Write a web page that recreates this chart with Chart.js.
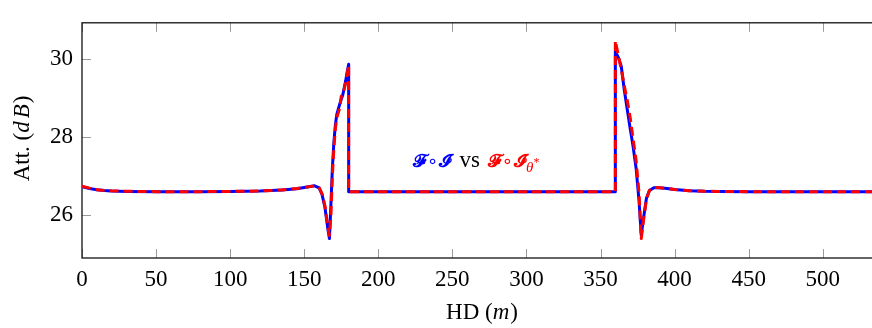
<!DOCTYPE html>
<html>
<head>
<meta charset="utf-8">
<script src="https://cdn.jsdelivr.net/npm/chart.js@4.4.1/dist/chart.umd.min.js"></script>
<style>
  html, body { margin: 0; padding: 0; background: #fff; overflow: hidden; }
  #wrap { width: 872px; height: 328px; overflow: hidden; }
  canvas { display: block; }
</style>
</head>
<body>
<div id="wrap"><canvas id="att" width="882" height="328"></canvas></div>
<script>
// Horizontal distance (m)
const hd = [
  0, 5, 10, 15, 20, 30, 50, 80, 100, 120, 135, 145, 152, 157, 160, 162, 164, 166, 167,
  168, 169, 170, 171, 172, 174, 175, 176, 178, 179, 180, 180, 200, 300, 360, 360,
  362, 364, 366, 368, 370, 372, 374, 376, 377.5, 379, 381, 383, 386, 390, 395, 400,
  410, 420, 430, 450, 500, 540
];
// Attenuation (dB), reference F∘I
const attRef = [
  26.72, 26.67, 26.64, 26.62, 26.605, 26.595, 26.59, 26.59, 26.595, 26.605, 26.63, 26.665, 26.71, 26.74, 26.69, 26.52, 26.18, 25.62, 25.38,
  26.25, 27.20, 27.85, 28.30, 28.58, 28.85, 28.97, 29.08, 29.45, 29.68, 29.87, 26.59, 26.59, 26.59, 26.59, 30.20,
  30.05, 29.82, 29.22, 28.72, 28.22, 27.75, 27.20, 26.35, 25.46, 25.90, 26.42, 26.62, 26.69, 26.69, 26.67, 26.645,
  26.615, 26.60, 26.595, 26.59, 26.59, 26.59
];
// Attenuation (dB), surrogate F∘I_θ*
const attSur = [
  26.73, 26.68, 26.64, 26.62, 26.61, 26.60, 26.59, 26.59, 26.595, 26.605, 26.635, 26.67, 26.71, 26.74, 26.70, 26.54, 26.22, 25.66, 25.46,
  25.95, 27.00, 27.70, 28.20, 28.50, 28.75, 29.05, 29.08, 29.40, 29.62, 29.85, 26.59, 26.59, 26.59, 26.59, 30.48,
  30.10, 29.75, 29.32, 28.95, 28.50, 27.95, 27.40, 26.55, 25.38, 25.85, 26.40, 26.62, 26.70, 26.69, 26.67, 26.645,
  26.615, 26.60, 26.595, 26.59, 26.59, 26.59
];
const xTicks = [0, 50, 100, 150, 200, 250, 300, 350, 400, 450, 500];
const yTicks = [26, 28, 30];

const SERIF = '"Liberation Serif", "Times New Roman", serif';
const FS = 23;
const BLUE = 'rgb(0,0,255)';
const RED = 'rgb(255,0,0)';

const toXY = ys => hd.map((x, i) => ({ x, y: ys[i] }));

// Black frame with short grey inward tick marks on every side
const framePlugin = {
  id: 'frame',
  beforeDatasetsDraw(chart) {
    const { ctx, chartArea: a, scales: { x, y } } = chart;
    ctx.save();
    ctx.strokeStyle = '#9a9a9a';
    ctx.lineWidth = 1;
    const L = 9;
    ctx.beginPath();
    xTicks.forEach(v => {
      const px = Math.round(x.getPixelForValue(v)) + 0.5;
      ctx.moveTo(px, a.bottom); ctx.lineTo(px, a.bottom - L);
      ctx.moveTo(px, a.top); ctx.lineTo(px, a.top + L);
    });
    yTicks.forEach(v => {
      const py = Math.round(y.getPixelForValue(v)) + 0.5;
      ctx.moveTo(a.left, py); ctx.lineTo(a.left + L, py);
      ctx.moveTo(a.right, py); ctx.lineTo(a.right - L, py);
    });
    ctx.stroke();
    ctx.strokeStyle = '#111';
    ctx.lineWidth = 1.3;
    ctx.strokeRect(a.left, a.top, a.right - a.left, a.bottom - a.top);
    ctx.restore();
  }
};

// Draws a run of differently styled text pieces starting at (x0, y0)
function drawRuns(ctx, runs, x0, y0) {
  let x = x0;
  runs.forEach(r => {
    ctx.font = r.font;
    ctx.fillStyle = r.color || '#000';
    ctx.fillText(r.t, x, y0 + (r.dy || 0));
    x += ctx.measureText(r.t).width + (r.gap || 0);
  });
  return x - x0;
}
function runsWidth(ctx, runs) {
  let w = 0;
  runs.forEach(r => { ctx.font = r.font; w += ctx.measureText(r.t).width + (r.gap || 0); });
  return w;
}

// Axis titles and the in-plot comparison label
const textPlugin = {
  id: 'texts',
  afterDraw(chart) {
    const { ctx, chartArea: a, scales: { x, y } } = chart;
    ctx.save();
    ctx.textBaseline = 'alphabetic';
    ctx.textAlign = 'left';
    const up = `${FS}px ${SERIF}`;
    const it = `italic ${FS}px ${SERIF}`;

    // x title: HD (m)
    const xr = [{ t: 'HD (', font: up }, { t: 'm', font: it, gap: 1 }, { t: ')', font: up }];
    const xw = runsWidth(ctx, xr);
    drawRuns(ctx, xr, (a.left + a.right) / 2 - xw / 2, 319);

    // y title: Att. (dB)
    const yr = [{ t: 'Att. (', font: up }, { t: 'd', font: it, gap: 3 }, { t: 'B', font: it, gap: 1 }, { t: ')', font: up }];
    const yw = runsWidth(ctx, yr);
    ctx.save();
    ctx.translate(29, (a.top + a.bottom) / 2 - 2);
    ctx.rotate(-Math.PI / 2);
    drawRuns(ctx, yr, -yw / 2, 0);
    ctx.restore();

    // comparison label
    const sc = `bold 18px "DejaVu Serif", "DejaVu Sans", serif`;
    const op = `18px "DejaVu Sans", sans-serif`;
    const lr = [
      { t: '\u{1D4D5}', font: sc, color: BLUE, gap: 1 },
      { t: '\u2218', font: op, color: BLUE, gap: 1 },
      { t: '\u{1D4D8}', font: sc, color: BLUE, gap: 8 },
      { t: 'vs', font: up, color: '#000', gap: 8 },
      { t: '\u{1D4D5}', font: sc, color: RED, gap: 1 },
      { t: '\u2218', font: op, color: RED, gap: 1 },
      { t: '\u{1D4D8}', font: sc, color: RED },
      { t: '\u03B8', font: `italic 15px ${SERIF}`, color: RED, dy: 5 },
      { t: '*', font: `12px ${SERIF}`, color: RED, dy: -1 }
    ];
    drawRuns(ctx, lr, x.getPixelForValue(223.5), y.getPixelForValue(27.23));
    ctx.restore();
  }
};

new Chart(document.getElementById('att'), {
  type: 'line',
  data: {
    datasets: [
      {
        label: 'F∘I_θ*',
        data: toXY(attSur),
        borderColor: RED,
        borderWidth: 3,
        borderDash: [9, 5],
        borderJoinStyle: 'round',
        pointRadius: 0,
        tension: 0,
        fill: false,
        order: 0
      },
      {
        label: 'F∘I',
        data: toXY(attRef),
        borderColor: BLUE,
        borderWidth: 3,
        borderJoinStyle: 'round',
        pointRadius: 0,
        tension: 0,
        fill: false,
        order: 1
      }
    ]
  },
  options: {
    responsive: false,
    animation: false,
    devicePixelRatio: 1,
    layout: { padding: { top: 3, right: 0, left: 0, bottom: 0 } },
    plugins: { legend: { display: false }, tooltip: { enabled: false }, title: { display: false } },
    scales: {
      x: {
        type: 'linear',
        min: 0,
        max: 540,
        grid: { display: false, drawTicks: false },
        border: { display: false },
        ticks: { color: '#000', font: { family: SERIF, size: FS }, padding: 8, maxRotation: 0 },
        afterBuildTicks: s => { s.ticks = xTicks.map(v => ({ value: v })); },
        afterFit: s => { s.height = 70; }
      },
      y: {
        type: 'linear',
        min: 24.88,
        max: 30.94,
        grid: { display: false, drawTicks: false },
        border: { display: false },
        ticks: { color: '#000', font: { family: SERIF, size: FS }, padding: 9 },
        afterBuildTicks: s => { s.ticks = yTicks.map(v => ({ value: v })); },
        afterFit: s => { s.width = 82; }
      }
    }
  },
  plugins: [framePlugin, textPlugin]
});
</script>
</body>
</html>
